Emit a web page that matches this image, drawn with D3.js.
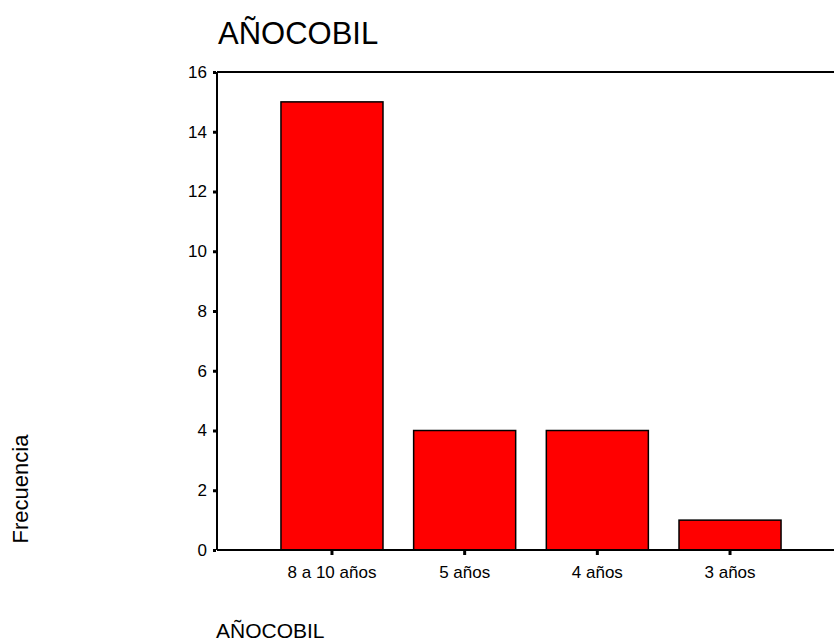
<!DOCTYPE html>
<html><head><meta charset="utf-8">
<script src="https://cdn.jsdelivr.net/npm/d3@7"></script>
<style>body{margin:0;background:#fff;} svg{display:block;}</style>
</head><body>
<script>
const categories = ["8 a 10 años", "5 años", "4 años", "3 años"];
const values = [15, 4, 4, 1];
const yTicks = [0, 2, 4, 6, 8, 10, 12, 14, 16];
const chartTitle = "AÑOCOBIL";
const xTitle = "AÑOCOBIL";
const yTitle = "Frecuencia";

const W = 834, H = 641;
const pLeft = 217, pTop = 72, pBottom = 550, pRight = 845;
const font = "'Liberation Sans', Arial, sans-serif";

const svg = d3.select("body").append("svg").attr("width", W).attr("height", H);

const x = d3.scaleBand().domain(categories).range([pLeft, pRight]).paddingInner(0.231).paddingOuter(0.482);
const y = d3.scaleLinear().domain([0, 16]).range([pBottom, pTop]);

// bars
svg.selectAll("rect.bar").data(values).enter().append("rect")
  .attr("class", "bar")
  .attr("x", (d, i) => x(categories[i]))
  .attr("y", d => y(d))
  .attr("width", x.bandwidth())
  .attr("height", d => y(0) - y(d))
  .attr("fill", "#ff0000").attr("stroke", "#000").attr("stroke-width", 1.5);

// frame lines
svg.append("line").attr("x1", pLeft).attr("x2", W).attr("y1", pTop).attr("y2", pTop).attr("stroke", "#000").attr("stroke-width", 2);
svg.append("line").attr("x1", pLeft).attr("x2", pLeft).attr("y1", pTop).attr("y2", pBottom).attr("stroke", "#000").attr("stroke-width", 2);
svg.append("line").attr("x1", pLeft).attr("x2", W).attr("y1", pBottom).attr("y2", pBottom).attr("stroke", "#000").attr("stroke-width", 2);

// y axis
const yAxis = d3.axisLeft(y).tickValues(yTicks).tickSize(3).tickPadding(6).tickFormat(d3.format("d"));
const gy = svg.append("g").attr("transform", `translate(${pLeft - 1},0)`).call(yAxis);
gy.select(".domain").remove();
gy.selectAll(".tick line").attr("stroke", "#000").attr("stroke-width", 3);
gy.selectAll(".tick text").attr("font-family", font).attr("font-size", 17).attr("fill", "#000");

// x axis
const xAxis = d3.axisBottom(x).tickSize(4).tickPadding(11);
const gx = svg.append("g").attr("transform", `translate(0,${pBottom + 1})`).call(xAxis);
gx.select(".domain").remove();
gx.selectAll(".tick line").attr("stroke", "#000").attr("stroke-width", 3);
gx.selectAll(".tick text").attr("font-family", font).attr("font-size", 17).attr("fill", "#000");

// titles
svg.append("text").attr("x", 218).attr("y", 44).attr("font-family", font).attr("font-size", 31).text(chartTitle);
svg.append("text").attr("x", 216).attr("y", 638).attr("font-family", font).attr("font-size", 21).text(xTitle);
svg.append("text").attr("transform", "translate(28,489) rotate(-90)").attr("text-anchor", "middle")
  .attr("font-family", font).attr("font-size", 22).text(yTitle);
</script>
</body></html>
